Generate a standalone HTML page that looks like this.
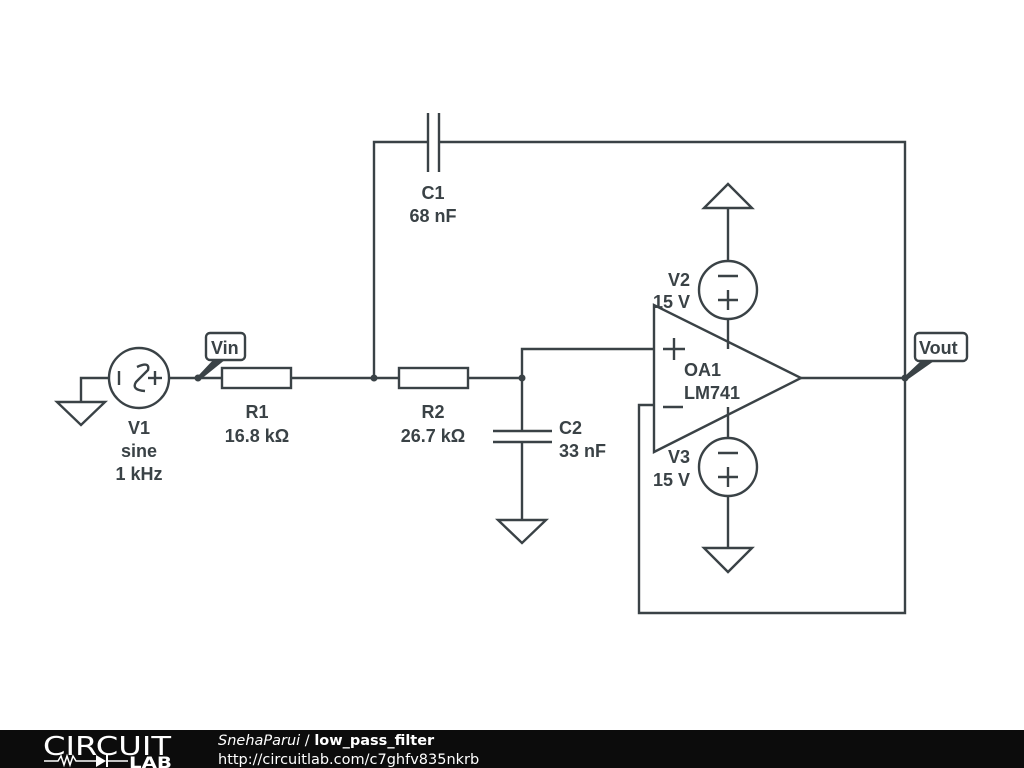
<!DOCTYPE html>
<html><head><meta charset="utf-8"><style>
html,body{margin:0;padding:0;background:#fff;width:1024px;height:768px;overflow:hidden}
svg{display:block}
text{font-family:"Liberation Sans",sans-serif;font-weight:bold;fill:#3a4246;font-size:18px}
</style></head><body>
<svg width="1024" height="768" viewBox="0 0 1024 768">
<g stroke="#3a4246" stroke-width="2.4" fill="none">
<polyline points="108,378 81,378 81,402"/>
<polygon points="57,402 105,402 81,425"/>
<circle cx="139" cy="378" r="30" fill="#fff"/>
<line x1="119" y1="371" x2="119" y2="385"/>
<path d="M137,367 Q150,361 148,370 L136,382 Q131,390 145,391"/>
<line x1="148" y1="378" x2="162" y2="378"/><line x1="155" y1="371" x2="155" y2="385"/>
<line x1="169" y1="378" x2="222" y2="378"/>
<rect x="222" y="368" width="69" height="20"/>
<line x1="291" y1="378" x2="399" y2="378"/>
<rect x="399" y="368" width="69" height="20"/>
<line x1="468" y1="378" x2="522" y2="378"/>
<polyline points="374,378 374,142 428,142"/>
<line x1="428" y1="113" x2="428" y2="172"/>
<line x1="439" y1="113" x2="439" y2="172"/>
<polyline points="439,142 905,142 905,613 639,613 639,405 655,405"/>
<polyline points="522,378 522,431"/>
<line x1="493" y1="431" x2="552" y2="431"/>
<line x1="493" y1="442" x2="552" y2="442"/>
<line x1="522" y1="442" x2="522" y2="520"/>
<polygon points="498,520 546,520 522,543"/>
<polyline points="522,378 522,349 655,349"/>
<polygon points="654,305 654,452 801,378"/>
<line x1="801" y1="378" x2="905" y2="378"/>
<line x1="663" y1="349" x2="685" y2="349"/><line x1="674" y1="338" x2="674" y2="360"/>
<line x1="663" y1="407" x2="683" y2="407"/>
<polygon points="704,208 752,208 728,184"/>
<line x1="728" y1="208" x2="728" y2="261"/>
<circle cx="728" cy="290" r="29" fill="#fff"/>
<line x1="718" y1="276" x2="738" y2="276"/>
<line x1="718" y1="300" x2="738" y2="300"/><line x1="728" y1="290" x2="728" y2="310"/>
<line x1="728" y1="319" x2="728" y2="349"/>
<line x1="728" y1="407" x2="728" y2="438"/>
<circle cx="728" cy="467" r="29" fill="#fff"/>
<line x1="718" y1="453" x2="738" y2="453"/>
<line x1="718" y1="477" x2="738" y2="477"/><line x1="728" y1="467" x2="728" y2="487"/>
<line x1="728" y1="496" x2="728" y2="548"/>
<polygon points="704,548 752,548 728,572"/>
<rect x="206" y="333" width="39" height="27" rx="4" fill="#fff"/>
<rect x="915" y="333" width="52" height="28" rx="4" fill="#fff"/>
</g>
<g fill="#3a4246">
<polygon points="198,376 214,359 226,359 200,380"/>
<polygon points="905,376 921,361 934,361 907,380"/>
<circle cx="198" cy="378" r="3.5"/><circle cx="374" cy="378" r="3.5"/>
<circle cx="522" cy="378" r="3.5"/><circle cx="905" cy="378" r="3.5"/>
</g>
<text x="211" y="354">Vin</text>
<text x="919" y="354">Vout</text>
<g text-anchor="middle">
<text x="139" y="434">V1</text><text x="139" y="457">sine</text><text x="139" y="480">1 kHz</text>
<text x="257" y="418">R1</text><text x="257" y="442">16.8 kΩ</text>
<text x="433" y="418">R2</text><text x="433" y="442">26.7 kΩ</text>
<text x="433" y="199">C1</text><text x="433" y="222">68 nF</text>
</g>
<text x="559" y="434">C2</text><text x="559" y="457">33 nF</text>
<text x="684" y="376">OA1</text><text x="684" y="399">LM741</text>
<text x="668" y="286">V2</text><text x="653" y="308">15 V</text>
<text x="668" y="463">V3</text><text x="653" y="486">15 V</text>
<rect x="0" y="730" width="1024" height="38" fill="#0c0c0c"/>
<text x="43" y="755" textLength="128" lengthAdjust="spacingAndGlyphs" style="font-family:'DejaVu Sans',sans-serif;font-weight:normal;font-size:26px;fill:#fff">CIRCUIT</text>
<polyline points="44,761 58,761 61,756 64,765 67,756 70,765 73,756 76,761 96,761" stroke="#fff" stroke-width="1.5" fill="none"/>
<polygon points="96,755 96,767 106,761" fill="#fff"/><line x1="107" y1="755" x2="107" y2="767" stroke="#fff" stroke-width="2"/>
<line x1="107" y1="761" x2="128" y2="761" stroke="#fff" stroke-width="1.5"/>
<text x="129" y="768" textLength="43" lengthAdjust="spacingAndGlyphs" style="font-family:'DejaVu Sans',sans-serif;font-size:16px;fill:#fff;font-weight:bold">LAB</text>
<text x="218" y="745" style="font-family:'DejaVu Sans',sans-serif;font-size:14.5px;fill:#fff;font-weight:normal"><tspan font-style="italic">SnehaParui</tspan> / <tspan font-weight="bold">low_pass_filter</tspan></text>
<text x="218" y="764" style="font-family:'DejaVu Sans',sans-serif;font-size:14.5px;fill:#fff;font-weight:normal">http://circuitlab.com/c7ghfv835nkrb</text>
</svg>
</body></html>
